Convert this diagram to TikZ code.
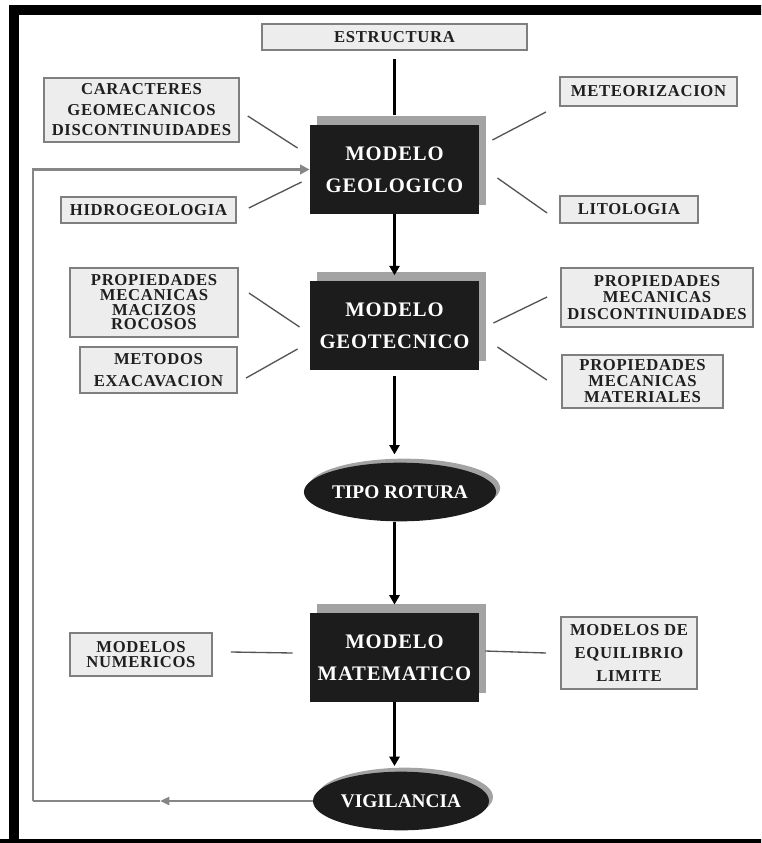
\documentclass[tikz,border=0pt]{standalone}
\usepackage{fontspec}
\setmainfont{Liberation Serif}
\usetikzlibrary{arrows.meta,positioning,calc,shapes.geometric,shadows}
\definecolor{BoxGrey}{HTML}{EDEDED}
\definecolor{EdgeGrey}{HTML}{7F7F7F}
\definecolor{ShadeGrey}{HTML}{A3A3A3}
\definecolor{LoopGrey}{HTML}{868686}
\definecolor{InkBlack}{HTML}{1C1C1C}
\definecolor{FeedGrey}{HTML}{555555}

\tikzset{
  sidebox/.style={draw=EdgeGrey, line width=1.4pt, fill=BoxGrey, text=black!88, align=center,
    inner sep=0pt, font=\bfseries\fontsize{12.5}{#1}\selectfont\addfontfeatures{LetterSpace=4}},
  sidebox/.default=13pt,
  modelbox/.style={fill=InkBlack, text=white, align=center, inner sep=0pt,
    minimum width=127pt, minimum height=67pt,
    font=\bfseries\fontsize{15.5}{24}\selectfont\addfontfeatures{LetterSpace=4},
    drop shadow={shadow xshift=5pt, shadow yshift=7pt, fill=ShadeGrey, opacity=1}},
  stageoval/.style={ellipse, fill=InkBlack, text=white, inner sep=0pt,
    minimum width=132pt, minimum height=44pt, font=\bfseries\fontsize{14.5}{16}\selectfont,
    drop shadow={shadow xshift=3pt, shadow yshift=3pt, fill=ShadeGrey, opacity=1}},
  flow/.style={line width=2pt, -{Triangle[length=7pt,width=7.5pt]}},
  feed/.style={FeedGrey, line width=1pt},
  loopline/.style={LoopGrey, line width=2.2pt},
}

\begin{document}
\begin{tikzpicture}[x=0.75pt,y=-0.75pt]
  \useasboundingbox (0,0) rectangle (761,843);
  \clip (0,0) rectangle (761,843);
  % frame
  \draw[line width=7pt] (14,860) -- (14,10) -- (790,10);
  \draw[line width=5pt] (0,842) -- (790,842);

  % central chain
  \node[sidebox, minimum width=199pt, minimum height=19.5pt] (estr) at (394.5,37) {ESTRUCTURA};
  \node[modelbox] (geo) at (394.5,169.5) {MODELO\\GEOLOGICO};
  \node[modelbox] (geot) at (394.5,325.5) {MODELO\\GEOTECNICO};
  \node[stageoval] (tipo) at (400,492) {TIPO ROTURA};
  \node[modelbox] (mat) at (394.5,657.5) {MODELO\\MATEMATICO};
  \node[stageoval] (vig) at (401,801) {VIGILANCIA};

  % side boxes
  \node[sidebox=15.4pt, minimum width=146pt, minimum height=48pt] (carac) at (141.5,110) {CARACTERES\\GEOMECANICOS\\DISCONTINUIDADES};
  \node[sidebox, minimum width=131pt, minimum height=19.5pt] (hidro) at (148.5,210) {HIDROGEOLOGIA};
  \node[sidebox, minimum width=133pt, minimum height=22pt] (meteo) at (648.5,91.5) {METEORIZACION};
  \node[sidebox, minimum width=103.5pt, minimum height=20pt] (lito) at (629,209.5) {LITOLOGIA};
  \node[sidebox=11pt, minimum width=126pt, minimum height=52pt] (maci) at (154,302.5) {PROPIEDADES\\MECANICAS\\MACIZOS\\ROCOSOS};
  \node[sidebox=16.5pt, minimum width=118pt, minimum height=34.5pt] (meto) at (158.5,370) {METODOS\\EXACAVACION};
  \node[sidebox=12.4pt, minimum width=144pt, minimum height=44pt] (disc) at (657,297.5) {PROPIEDADES\\MECANICAS\\DISCONTINUIDADES};
  \node[sidebox=12pt, minimum width=121pt, minimum height=40pt] (mate) at (642.5,381.5) {PROPIEDADES\\MECANICAS\\MATERIALES};
  \node[sidebox=11pt, minimum width=106.5pt, minimum height=32pt] (num) at (141,654.5) {MODELOS\\NUMERICOS};
  \node[sidebox=17pt, minimum width=102pt, minimum height=54pt] (equi) at (629,653) {MODELOS DE\\EQUILIBRIO\\LIMITE};

  % main flow
  \draw[line width=2pt, shorten <=6pt, shorten >=7pt] (estr.south) -- (estr.south |- geo.north);
  \draw[flow, shorten >=4pt] (geo.south) -- (geot.north);
  \draw[flow, shorten <=4pt, shorten >=6pt] (geot.south) -- (geot.south |- tipo.north);
  \draw[flow, shorten >=6pt] (tipo.south -| mat.north) -- (mat.north);
  \draw[flow, shorten >=4pt] (mat.south) -- (mat.south |- vig.north);

  % thin links to the side boxes
  \draw[feed] ($(carac.east)+(8,6)$) -- ($(geo.west)+(-12,-21.5)$);
  \draw[feed] ($(hidro.east)+(12,-2)$) -- ($(geo.west)+(-8,12.5)$);
  \draw[feed] ($(meteo.west)+(-13,20.5)$) -- ($(geo.east)+(13,-29.5)$);
  \draw[feed] ($(lito.west)+(-12,3.5)$) -- ($(geo.east)+(18,8.5)$);
  \draw[feed] ($(maci.east)+(10,-9.5)$) -- ($(geot.west)+(-10,1.5)$);
  \draw[feed] ($(meto.east)+(8,8)$) -- ($(geot.west)+(-12,23.5)$);
  \draw[feed] ($(disc.west)+(-13,-0.5)$) -- ($(geot.east)+(14,-2.5)$);
  \draw[feed] ($(mate.west)+(-14,-1.5)$) -- ($(geot.east)+(18,21.5)$);
  \draw[feed] ($(num.east)+(18,-2.5)$) -- ($(mat.west)+(-17,-4.5)$);
  \draw[feed] ($(equi.west)+(-14,0)$) -- ($(mat.east)+(6,-6.5)$);

  % feedback loop
  \coordinate (looptip) at (160,801);
  \coordinate (loopcorner) at (33,801);
  \draw[loopline, -{Triangle[length=7pt,width=6pt]}] (vig.west) -- (looptip);
  \draw[loopline] (looptip) -- (loopcorner);
  \draw[loopline, -{Triangle[length=7pt,width=7pt]}] (loopcorner) |- (geo.west);
\end{tikzpicture}
\end{document}
